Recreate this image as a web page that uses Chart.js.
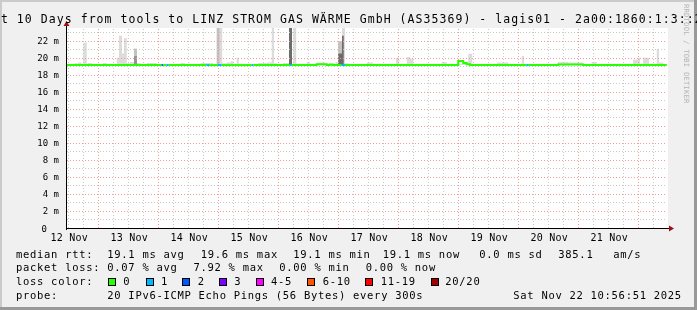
<!DOCTYPE html>
<html>
<head>
<meta charset="utf-8">
<script src="https://cdn.jsdelivr.net/npm/chart.js@4/dist/chart.umd.min.js"></script>
<style>
html, body { margin: 0; padding: 0; background: #f0f0f0; overflow: hidden; }
#wrap { width: 697px; height: 310px; }
</style>
</head>
<body>
<div id="wrap"><canvas id="smokeChart" width="697" height="310"></canvas></div>
<script>
// x values are hours since 12 Nov 00:00, graph runs 12 Nov 11:30 .. 22 Nov 11:30
const xStart = 11.5;
const xEnd = 251.5;
const yMax = 23.5;
const baseRtt = 19.14;

const dayLabels = ["12 Nov", "13 Nov", "14 Nov", "15 Nov", "16 Nov", "17 Nov", "18 Nov", "19 Nov", "20 Nov", "21 Nov"];
const yTickValues = [0, 2, 4, 6, 8, 10, 12, 14, 16, 18, 20, 22];
const yTickLabels = ["0", "2 m", "4 m", "6 m", "8 m", "10 m", "12 m", "14 m", "16 m", "18 m", "20 m", "22 m"];

// smoke layers: [hour, top of smoke in ms], value holds until next entry
const smokeLight = [
  [11.5, 19.26], [14.5, 19.36], [16.0, 19.45], [17.2, 19.3], [18.0, 21.76], [19.4, 19.3],
  [19.9, 19.4], [21.4, 19.26], [25.9, 19.4], [27.4, 19.26], [31.4, 20.0], [32.3, 22.6],
  [33.5, 20.5], [34.3, 22.3], [35.4, 19.35], [36.8, 19.5], [38.3, 21.06], [39.5, 19.4],
  [41.0, 19.26], [43.4, 19.4], [47.4, 19.26], [56.9, 19.4], [58.7, 19.26], [64.9, 19.4],
  [69.9, 19.26], [71.4, 23.5], [73.6, 19.35], [75.4, 19.45], [77.0, 19.6], [78.0, 19.3],
  [79.4, 20.0], [80.2, 19.3], [82.0, 19.26], [87.9, 19.4], [91.4, 19.45], [93.4, 23.5],
  [94.3, 19.35], [95.5, 19.26], [97.9, 19.4], [100.3, 23.5], [101.5, 19.3], [102.0, 23.5],
  [103.2, 19.3], [107.4, 19.5], [108.7, 19.3], [111.4, 19.45], [114.7, 19.3], [119.0, 19.5],
  [120.0, 21.9], [121.5, 23.5], [122.7, 19.35], [124.0, 19.26], [131.4, 19.45], [134.0, 19.26],
  [143.1, 20.0], [144.4, 19.26], [147.4, 20.1], [148.8, 19.9], [150.0, 19.26], [161.4, 19.5],
  [163.4, 19.26], [172.0, 20.47], [173.6, 19.26], [183.4, 19.45], [188.0, 19.26], [193.4, 20.2],
  [194.3, 19.26], [207.9, 19.5], [211.9, 19.45], [217.9, 19.26], [221.4, 19.5], [223.4, 19.26],
  [237.9, 19.76], [239.9, 20.0], [240.7, 19.3], [241.9, 20.0], [244.3, 19.3], [247.4, 21.06],
  [248.3, 19.45], [250.0, 19.26], [251.4, 19.26]
];
const smokeMid = [
  [11.5, baseRtt], [38.3, 21.06], [39.5, baseRtt], [71.4, 23.5], [72.5, baseRtt],
  [120.0, 21.9], [121.5, baseRtt], [251.4, baseRtt]
];
const smokeGray = [
  [11.5, baseRtt], [38.3, 20.2], [39.5, baseRtt], [251.4, baseRtt]
];
const smokeDark = [
  [11.5, baseRtt], [100.3, 23.5], [101.5, baseRtt], [120.0, 20.5], [121.5, 22.6],
  [122.2, baseRtt], [251.4, baseRtt]
];

// median rtt: [hour, ms, lost pings of 20]
const medianRtt = [
  [11.5, 19.14, 0], [49.3, 19.14, 2], [50.0, 19.14, 0], [51.3, 19.14, 1], [52.2, 19.14, 0],
  [67.3, 19.14, 1], [68.3, 19.14, 0], [71.9, 19.14, 1], [73.4, 19.14, 0], [85.4, 19.14, 1],
  [86.1, 19.14, 0], [100.6, 19.14, 1], [101.4, 19.14, 0], [111.4, 19.24, 0], [115.4, 19.14, 0],
  [116.6, 19.22, 0], [117.8, 19.14, 0], [121.3, 19.14, 1], [122.7, 19.14, 0], [168.0, 19.62, 0],
  [170.0, 19.4, 0], [171.4, 19.25, 0], [172.7, 19.14, 0], [195.4, 19.14, 1], [196.2, 19.14, 0],
  [207.9, 19.22, 0], [217.9, 19.14, 0], [251.4, 19.14, 0]
];

const lossColors = ["#26ff00", "#00b8ff", "#0059ff", "#7e00ff", "#ff00ff", "#ff5500", "#ff0000", "#a10000"];
const lossLabels = ["0", "1", "2", "3", "4-5", "6-10", "11-19", "20/20"];

const statsRtt = ["19.1 ms avg", "19.6 ms max", "19.1 ms min", "19.1 ms now", "0.0 ms sd", "385.1", "am/s"];
const statsLoss = ["0.07 % avg", "7.92 % max", "0.00 % min", "0.00 % now"];

function lossBin(n) {
  if (n <= 3) return n;
  if (n <= 5) return 4;
  if (n <= 10) return 5;
  if (n <= 19) return 6;
  return 7;
}

function toPoints(list) {
  return list.map(p => ({ x: p[0], y: p[1] }));
}

function smokeSet(list, color, order) {
  return {
    data: toPoints(list),
    stepped: true,
    borderColor: "transparent",
    borderWidth: 1,
    backgroundColor: color,
    pointRadius: 0,
    fill: { value: baseRtt },
    order: order
  };
}

const MONO = '"DejaVu Sans Mono", monospace';

function txt(ctx, s, x, y, size, spacing, align) {
  ctx.font = size + "px " + MONO;
  ctx.letterSpacing = (spacing || 0) + "px";
  ctx.textAlign = align || "left";
  ctx.fillText(s, x, y);
}

const framePlugin = {
  id: "frame",
  beforeDraw(chart) {
    const ctx = chart.ctx;
    const a = chart.chartArea;
    ctx.save();
    ctx.fillStyle = "#f0f0f0";
    ctx.fillRect(0, 0, 697, 310);
    ctx.fillStyle = "#cbcbcb";
    ctx.fillRect(0, 0, 697, 2);
    ctx.fillRect(0, 0, 2, 310);
    ctx.fillStyle = "#999999";
    ctx.fillRect(694, 0, 3, 310);
    ctx.fillRect(0, 307, 697, 3);
    ctx.fillStyle = "#ffffff";
    ctx.fillRect(a.left, a.top, a.right - a.left + 1, a.bottom - a.top);
    ctx.restore();
  }
};

const gridPlugin = {
  id: "rrdgrid",
  beforeDatasetDraw(chart, args) {
    if (args.index !== 4) return;
    const ctx = chart.ctx;
    const xs = chart.scales.x, ys = chart.scales.y;
    const a = chart.chartArea;
    ctx.save();
    ctx.lineWidth = 1;
    ctx.setLineDash([1, 2]);
    // minor lines first, then major
    for (const major of [false, true]) {
      ctx.strokeStyle = major ? "#f39a9a" : "#c9c9c9";
      for (let h = 12; h < xEnd; h += 6) {
        if ((h % 24 === 0) !== major) continue;
        const px = Math.round(xs.getPixelForValue(h)) + 0.5;
        ctx.beginPath();
        ctx.moveTo(px, a.bottom);
        ctx.lineTo(px, a.top);
        ctx.stroke();
      }
      for (let v = 1; v < yMax; v++) {
        if ((v % 2 === 0) !== major) continue;
        const py = Math.round(ys.getPixelForValue(v)) + 0.5;
        ctx.beginPath();
        ctx.moveTo(a.left, py);
        ctx.lineTo(a.right, py);
        ctx.stroke();
      }
    }
    ctx.restore();
  }
};

const textPlugin = {
  id: "rrdtext",
  afterDraw(chart) {
    const ctx = chart.ctx;
    const xs = chart.scales.x, ys = chart.scales.y;
    const a = chart.chartArea;
    ctx.save();

    // axes with arrows
    ctx.strokeStyle = "#000000";
    ctx.lineWidth = 1;
    ctx.beginPath();
    ctx.moveTo(a.left - 0.5, a.bottom + 0.5);
    ctx.lineTo(a.right + 3, a.bottom + 0.5);
    ctx.moveTo(a.left - 0.5, a.bottom + 2);
    ctx.lineTo(a.left - 0.5, a.top - 2);
    ctx.stroke();
    ctx.fillStyle = "#9c1010";
    ctx.beginPath();
    ctx.moveTo(a.right + 7, a.bottom + 0.5);
    ctx.lineTo(a.right + 2, a.bottom - 2.5);
    ctx.lineTo(a.right + 2, a.bottom + 3.5);
    ctx.fill();
    ctx.beginPath();
    ctx.moveTo(a.left - 0.5, a.top - 7);
    ctx.lineTo(a.left - 3.5, a.top - 2);
    ctx.lineTo(a.left + 2.5, a.top - 2);
    ctx.fill();

    ctx.fillStyle = "#000000";
    // title
    txt(ctx, "Last 10 Days from tools to LINZ STROM GAS WÄRME GmbH (AS35369) - lagis01 - 2a00:1860:1:3::2", -23, 23, 11.5, 1.05);

    // x labels at noon
    dayLabels.forEach((lab, i) => {
      txt(ctx, lab, xs.getPixelForValue(12 + 24 * i) + 1, 241, 10, 0.2, "center");
    });
    // y labels
    yTickValues.forEach((v, i) => {
      const py = ys.getPixelForValue(v) + 3.5;
      if (v === 0) txt(ctx, yTickLabels[i], 47, py, 9, 0, "right");
      else txt(ctx, yTickLabels[i], 59, py, 9, 0, "right");
    });

    // legend
    const L = 10.5, S = 0.7;
    txt(ctx, "median rtt:", 16, 257.5, L, S);
    [107.3, 200.7, 293.3, 382.7, 479.3, 558.3, 613.3].forEach((x, i) => txt(ctx, statsRtt[i], x, 257.5, L, S));
    txt(ctx, "packet loss:", 16, 271.3, L, S);
    [107.3, 193.5, 279.3, 365.7].forEach((x, i) => txt(ctx, statsLoss[i], x, 271.3, L, S));
    txt(ctx, "loss color:", 16, 285, L, S);
    const boxX = [108, 146, 182, 219, 256, 307, 365, 431];
    const labX = [123.3, 161, 197.7, 234.3, 271, 322.7, 380.7, 445.3];
    lossColors.forEach((c, i) => {
      ctx.fillStyle = c;
      ctx.fillRect(boxX[i], 278, 8, 8);
      ctx.strokeStyle = "#000000";
      ctx.strokeRect(boxX[i] + 0.5, 278.5, 7, 7);
      ctx.fillStyle = "#000000";
      txt(ctx, lossLabels[i], labX[i], 285, L, S);
    });
    txt(ctx, "probe:", 16, 298.8, L, S);
    txt(ctx, "20 IPv6-ICMP Echo Pings (56 Bytes) every 300s", 107.3, 298.8, L, S);
    txt(ctx, "Sat Nov 22 10:56:51 2025", 513.3, 298.8, L, S);

    // watermark
    ctx.save();
    ctx.translate(684, 4);
    ctx.rotate(Math.PI / 2);
    ctx.fillStyle = "#b4b4b4";
    txt(ctx, "RRDTOOL / TOBI OETIKER", 0, 0, 7.2, 0.2);
    ctx.restore();

    ctx.restore();
  }
};

const ctx = document.getElementById("smokeChart").getContext("2d");
const smokeChart = new Chart(ctx, {
  type: "line",
  data: {
    datasets: [
      smokeSet(smokeLight, "#dcdcdc", 5),
      smokeSet(smokeMid, "#c2c2c2", 4),
      smokeSet(smokeGray, "#959595", 3),
      smokeSet(smokeDark, "#6c6c6c", 2),
      {
        data: toPoints(medianRtt),
        stepped: true,
        borderColor: lossColors[0],
        borderWidth: 2,
        pointRadius: 0,
        fill: false,
        order: 1,
        segment: {
          borderColor: c => lossColors[lossBin(medianRtt[c.p0DataIndex][2])]
        }
      }
    ]
  },
  options: {
    responsive: false,
    animation: false,
    events: [],
    layout: { padding: { left: 67, right: 30, top: 28, bottom: 82 } },
    scales: {
      x: { type: "linear", min: xStart, max: xEnd, display: false },
      y: { type: "linear", min: 0, max: yMax, display: false }
    },
    plugins: {
      legend: { display: false },
      tooltip: { enabled: false }
    }
  },
  plugins: [framePlugin, gridPlugin, textPlugin]
});
</script>
</body>
</html>
